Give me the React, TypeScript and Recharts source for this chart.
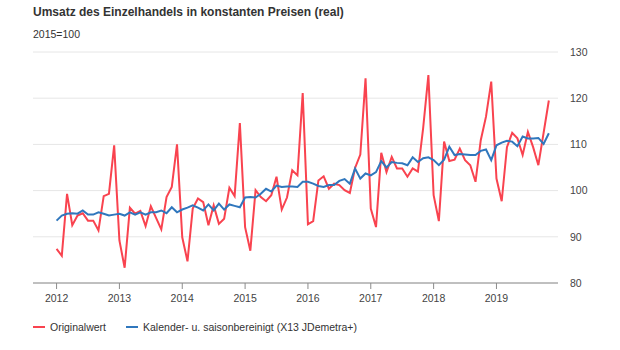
import React from 'react';
import { LineChart, Line, XAxis, YAxis, CartesianGrid } from 'recharts';

// Monatswerte Jan 2012 – Nov 2019, 2015=100
const originalwert = [
  87.4, 85.9, 99.3, 92.5, 94.6, 95.1, 93.5, 93.5, 91.4, 98.8, 99.3, 109.8,
  89.2, 83.3, 96.3, 95.0, 95.6, 92.3, 96.6, 94.1, 91.6, 98.6, 100.8, 110.0,
  89.9, 84.7, 96.1, 98.3, 97.5, 92.5, 96.8, 92.8, 93.9, 100.6, 98.8, 114.6,
  92.1, 87.0, 100.1, 98.6, 97.7, 99.0, 103.0, 95.9, 98.5, 104.4, 103.3, 121.1,
  92.7, 93.4, 102.2, 103.1, 100.4, 101.5, 101.2, 100.1, 99.5, 104.9, 107.8, 124.3,
  96.1, 92.1, 108.2, 104.0, 107.3, 104.8, 104.8, 103.0, 104.8, 104.1, 113.5, 125.0,
  99.0, 93.4, 110.6, 106.4, 106.7, 109.1, 106.6, 105.5, 101.9, 110.9, 116.0, 123.6,
  102.6, 97.7, 109.4, 112.5, 111.3, 107.7, 112.7, 109.4, 105.5, 112.5, 119.5,
];

const saisonbereinigt = [
  93.5, 94.6, 95.0, 95.1, 95.0, 95.7, 94.8, 94.8, 95.3, 95.0, 94.6, 94.8,
  95.0, 94.6, 95.3, 94.8, 95.3, 94.8, 95.3, 95.3, 95.7, 95.1, 96.4, 95.3,
  95.9, 96.3, 96.8, 96.3, 95.7, 97.0, 95.7, 97.2, 95.9, 97.0, 96.7, 96.4,
  98.5, 98.6, 98.5, 99.3, 100.4, 99.8, 101.1, 100.8, 100.9, 100.9, 100.8, 101.9,
  101.9, 101.5, 101.0, 100.8, 101.2, 101.2, 102.1, 102.5, 101.5, 104.8, 102.6, 103.7,
  103.3, 104.0, 106.4, 105.0, 106.2, 106.0, 105.9, 105.5, 107.2, 106.2, 107.0, 107.2,
  106.6, 105.5, 106.7, 109.5, 107.7, 107.9, 107.8, 107.7, 107.7, 108.6, 108.9, 106.6,
  109.8, 110.4, 110.8, 110.6, 109.6, 111.7, 111.3, 111.3, 111.4, 110.1, 112.4,
];

const startYear = 2012;
const yearTicks = [2012, 2013, 2014, 2015, 2016, 2017, 2018, 2019];
const yTicks = [80, 90, 100, 110, 120, 130];

const data = originalwert.map((v, i) => ({ m: i, orig: v, sa: saisonbereinigt[i] }));

const RED = '#f9434f';
const BLUE = '#3077bd';
const FONT = '"Liberation Sans", Arial, sans-serif';

export default function App() {
  return (
    <div style={{ position: 'absolute', left: 0, top: 0, width: 620, height: 350, background: '#fff', fontFamily: FONT }}>
      <div style={{ position: 'absolute', left: 33, top: 5, fontSize: 12, fontWeight: 'bold', color: '#333', whiteSpace: 'nowrap' }}>
        Umsatz des Einzelhandels in konstanten Preisen (real)
      </div>
      <div style={{ position: 'absolute', left: 33, top: 28, fontSize: 10.5, color: '#333' }}>2015=100</div>
      <LineChart width={620} height={350} data={data} margin={{ top: 52, right: 0, bottom: 37, left: 33 }}>
        <CartesianGrid vertical={false} stroke="#e6e6e6" />
        <XAxis
          dataKey="m"
          type="number"
          domain={[-4.5, 95.75]}
          ticks={yearTicks.map(y => (y - startYear) * 12)}
          tickFormatter={(m: number) => String(startYear + m / 12)}
          height={30}
          stroke="#8c8c8c"
          tickSize={6}
          tickMargin={6}
          tick={{ fill: '#444', fontSize: 10.5, fontFamily: FONT }}
        />
        <YAxis
          orientation="right"
          domain={[80, 130]}
          ticks={yTicks}
          width={62}
          axisLine={false}
          tickLine={false}
          tickSize={6}
          tickMargin={6}
          tick={{ fill: '#444', fontSize: 10.5, fontFamily: FONT }}
        />
        <Line type="linear" dataKey="orig" stroke={RED} strokeWidth={2} dot={false} isAnimationActive={false} />
        <Line type="linear" dataKey="sa" stroke={BLUE} strokeWidth={2} dot={false} isAnimationActive={false} />
      </LineChart>
      <div style={{ position: 'absolute', left: 33, top: 321, fontSize: 10.5, color: '#333', display: 'flex', alignItems: 'center', whiteSpace: 'nowrap' }}>
        <span style={{ display: 'inline-block', width: 12, height: 2, background: RED, marginRight: 5 }} />
        <span>Originalwert</span>
        <span style={{ display: 'inline-block', width: 12, height: 2, background: BLUE, marginLeft: 20, marginRight: 5 }} />
        <span>Kalender- u. saisonbereinigt (X13 JDemetra+)</span>
      </div>
    </div>
  );
}
